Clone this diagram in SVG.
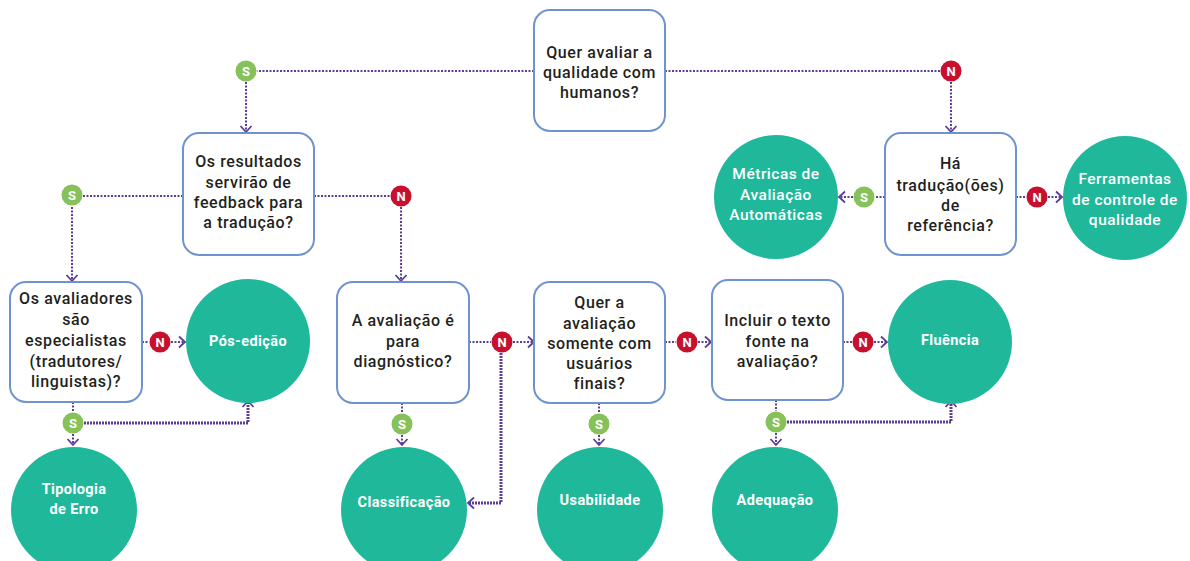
<svg xmlns="http://www.w3.org/2000/svg" width="1190" height="561" viewBox="0 0 1190 561">
<style>
.box{fill:#fff;stroke:#6f93cf;stroke-width:2}
.leaf{fill:#1fb89a}
.q{font-family:Roboto,"Liberation Sans",sans-serif;font-size:16px;font-weight:500;fill:#231f20;text-anchor:middle;letter-spacing:0.6px}
.lt{font-family:Roboto,"Liberation Sans",sans-serif;font-size:14.5px;font-weight:bold;fill:#fff;text-anchor:middle;letter-spacing:0.4px}
.lm{font-family:Roboto,"Liberation Sans",sans-serif;font-size:15.5px;font-weight:500;fill:#fff;text-anchor:middle;letter-spacing:0.5px}
.c{fill:none;stroke:#5b3c96;stroke-width:2;stroke-dasharray:2 1.5}
.c2{fill:none;stroke:#5b3c96;stroke-width:3;stroke-dasharray:2 1}
.s{fill:#86c15a}
.n{fill:#c8102e}
.bt{font-family:Roboto,"Liberation Sans",sans-serif;font-size:13px;font-weight:bold;fill:#fff;text-anchor:middle}
</style>
<defs>
<marker id="ar" markerUnits="userSpaceOnUse" markerWidth="14" markerHeight="14" refX="8" refY="7" orient="auto">
<polyline points="2,1.5 8,7 2,12.5" fill="none" stroke="#5b3c96" stroke-width="1.8"/>
</marker>
</defs>
<g id="connectors">
<path class="c" d="M534,71 H257"/>
<path class="c" d="M246,82 V132" marker-end="url(#ar)"/>
<path class="c" d="M665,71 H940"/>
<path class="c" d="M951,82 V132" marker-end="url(#ar)"/>
<path class="c" d="M183,196 H83"/>
<path class="c" d="M72,207 V281" marker-end="url(#ar)"/>
<path class="c" d="M314,196 H390"/>
<path class="c" d="M401,207 V281" marker-end="url(#ar)"/>
<path class="c" d="M885,197 H875"/>
<path class="c" d="M853,197 H839" marker-end="url(#ar)"/>
<path class="c" d="M1016,197 H1026"/>
<path class="c" d="M1048,197 H1062" marker-end="url(#ar)"/>
<path class="c" d="M142,342 H149"/>
<path class="c" d="M171,342 H185" marker-end="url(#ar)"/>
<path class="c" d="M73,402 V412"/>
<path class="c" d="M73,434 V445" marker-end="url(#ar)"/>
<path class="c2" d="M84,423 H248 V401" marker-end="url(#ar)"/>
<path class="c" d="M469,342 H491"/>
<path class="c" d="M513,342 H534" marker-end="url(#ar)"/>
<path class="c2" d="M501,353 V503 H468" marker-end="url(#ar)"/>
<path class="c" d="M402,403 V413"/>
<path class="c" d="M402,435 V445" marker-end="url(#ar)"/>
<path class="c" d="M665,342 H676"/>
<path class="c" d="M698,342 H711" marker-end="url(#ar)"/>
<path class="c" d="M599,403 V413"/>
<path class="c" d="M599,435 V445" marker-end="url(#ar)"/>
<path class="c" d="M843,342 H852"/>
<path class="c" d="M874,342 H887" marker-end="url(#ar)"/>
<path class="c" d="M776,400 V411"/>
<path class="c" d="M776,433 V445" marker-end="url(#ar)"/>
<path class="c2" d="M787,422 H951 V401" marker-end="url(#ar)"/>
</g>
<g id="badges">
<circle class="s" cx="246" cy="71" r="10.5"/><text class="bt" x="246" y="76">S</text>
<circle class="n" cx="951" cy="71" r="10.5"/><text class="bt" x="951" y="76">N</text>
<circle class="s" cx="72" cy="195" r="10.5"/><text class="bt" x="72" y="200">S</text>
<circle class="n" cx="401" cy="196" r="10.5"/><text class="bt" x="401" y="201">N</text>
<circle class="s" cx="864" cy="197" r="10.5"/><text class="bt" x="864" y="202">S</text>
<circle class="n" cx="1037" cy="197" r="10.5"/><text class="bt" x="1037" y="202">N</text>
<circle class="n" cx="160" cy="342" r="10.5"/><text class="bt" x="160" y="347">N</text>
<circle class="s" cx="73" cy="423" r="10.5"/><text class="bt" x="73" y="428">S</text>
<circle class="n" cx="502" cy="342" r="10.5"/><text class="bt" x="502" y="347">N</text>
<circle class="s" cx="402" cy="424" r="10.5"/><text class="bt" x="402" y="429">S</text>
<circle class="n" cx="687" cy="342" r="10.5"/><text class="bt" x="687" y="347">N</text>
<circle class="s" cx="599" cy="424" r="10.5"/><text class="bt" x="599" y="429">S</text>
<circle class="n" cx="863" cy="342" r="10.5"/><text class="bt" x="863" y="347">N</text>
<circle class="s" cx="776" cy="422" r="10.5"/><text class="bt" x="776" y="427">S</text>
</g>
<g id="q-humanos">
<rect class="box" x="534" y="10" width="131" height="121" rx="16"/>
<text class="q" x="599.5" y="58">Quer avaliar a</text>
<text class="q" x="599.5" y="78">qualidade com</text>
<text class="q" x="599.5" y="98">humanos?</text>
</g>
<g id="q-feedback">
<rect class="box" x="183" y="133" width="131" height="122" rx="16"/>
<text class="q" x="248.5" y="167">Os resultados</text>
<text class="q" x="248.5" y="188">servirão de</text>
<text class="q" x="248.5" y="208">feedback para</text>
<text class="q" x="248.5" y="228">a tradução?</text>
</g>
<g id="q-referencia">
<rect class="box" x="885" y="133" width="131" height="122" rx="16"/>
<text class="q" x="950.5" y="169">Há</text>
<text class="q" x="950.5" y="191">tradução(ões)</text>
<text class="q" x="950.5" y="211">de</text>
<text class="q" x="950.5" y="231">referência?</text>
</g>
<g id="metricas">
<circle class="leaf" cx="776" cy="197" r="62"/>
<text class="lm" x="776" y="179">Métricas de</text>
<text class="lm" x="776" y="200">Avaliação</text>
<text class="lm" x="776" y="220">Automáticas</text>
</g>
<g id="ferramentas">
<circle class="leaf" cx="1125" cy="198" r="62"/>
<text class="lm" x="1125" y="184">Ferramentas</text>
<text class="lm" x="1125" y="205">de controle de</text>
<text class="lm" x="1125" y="225">qualidade</text>
</g>
<g id="q-especialistas">
<rect class="box" x="10" y="282" width="132" height="120" rx="16"/>
<text class="q" x="76" y="304">Os avaliadores</text>
<text class="q" x="76" y="325">são</text>
<text class="q" x="76" y="346">especialistas</text>
<text class="q" x="76" y="367">(tradutores/</text>
<text class="q" x="76" y="387">linguistas)?</text>
</g>
<g id="pos-edicao">
<circle class="leaf" cx="248" cy="341" r="62"/>
<text class="lt" x="248" y="346">Pós-edição</text>
</g>
<g id="tipologia">
<circle class="leaf" cx="74" cy="510" r="63"/>
<text class="lt" x="74" y="494">Tipologia</text>
<text class="lt" x="74" y="514">de Erro</text>
</g>
<g id="q-diagnostico">
<rect class="box" x="337" y="282" width="132" height="121" rx="16"/>
<text class="q" x="403" y="326">A avaliação é</text>
<text class="q" x="403" y="347">para</text>
<text class="q" x="403" y="367">diagnóstico?</text>
</g>
<g id="classificacao">
<circle class="leaf" cx="404" cy="510" r="63"/>
<text class="lt" x="404" y="507">Classificação</text>
</g>
<g id="q-usuarios">
<rect class="box" x="534" y="282" width="131" height="121" rx="16"/>
<text class="q" x="599.5" y="308">Quer a</text>
<text class="q" x="599.5" y="329">avaliação</text>
<text class="q" x="599.5" y="349">somente com</text>
<text class="q" x="599.5" y="369">usuários</text>
<text class="q" x="599.5" y="389">finais?</text>
</g>
<g id="usabilidade">
<circle class="leaf" cx="600" cy="510" r="63"/>
<text class="lt" x="600" y="505">Usabilidade</text>
</g>
<g id="q-fonte">
<rect class="box" x="712" y="280" width="131" height="120" rx="16"/>
<text class="q" x="777.5" y="326">Incluir o texto</text>
<text class="q" x="777.5" y="347">fonte na</text>
<text class="q" x="777.5" y="367">avaliação?</text>
</g>
<g id="fluencia">
<circle class="leaf" cx="950" cy="342" r="62"/>
<text class="lt" x="950" y="345">Fluência</text>
</g>
<g id="adequacao">
<circle class="leaf" cx="775" cy="510" r="63"/>
<text class="lt" x="775" y="505">Adequação</text>
</g>
</svg>
